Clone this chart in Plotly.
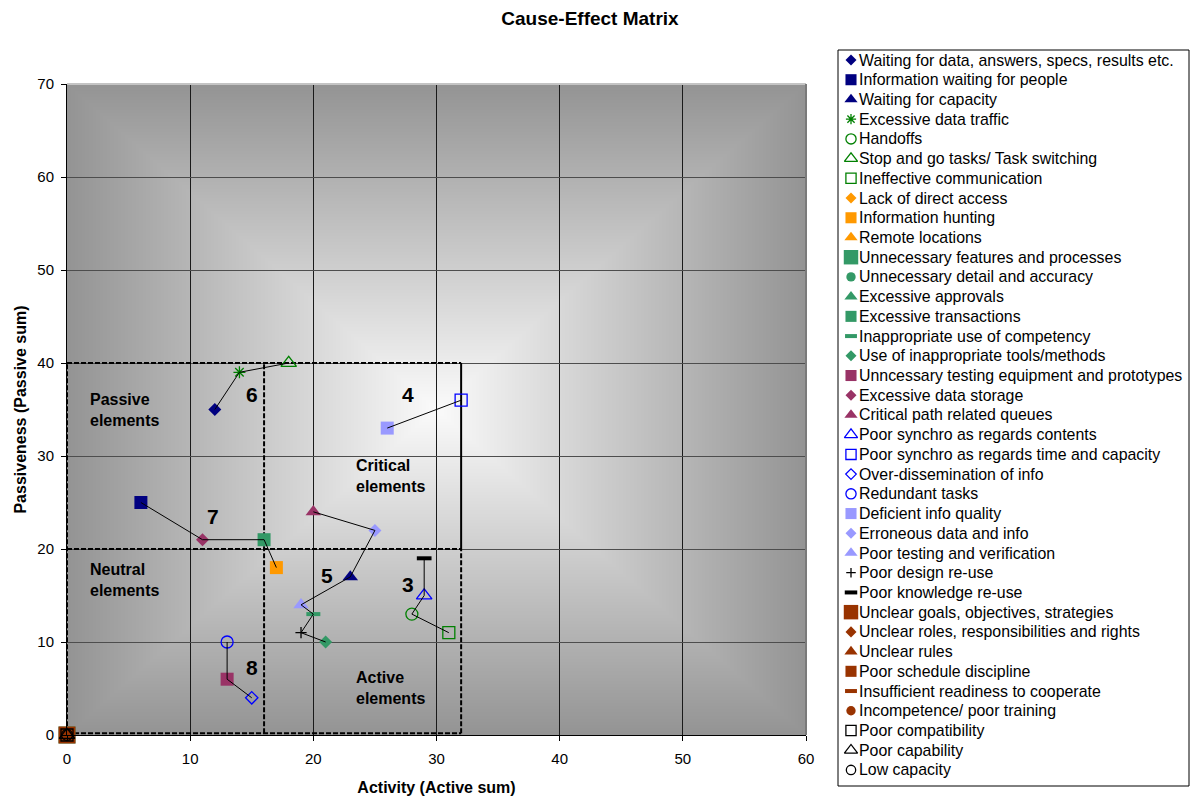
import base64
import struct
import zlib

import numpy as np
import plotly.graph_objects as go

# ---------------------------------------------------------------------------
# Data: each cause with its activity (active sum) and passiveness (passive sum)
# ---------------------------------------------------------------------------
causes = [
    "Waiting for data, answers, specs, results etc.",
    "Information waiting for people",
    "Waiting for capacity",
    "Excessive data traffic",
    "Handoffs",
    "Stop and go tasks/ Task switching",
    "Ineffective communication",
    "Lack of direct access",
    "Information hunting",
    "Remote locations",
    "Unnecessary features and processes",
    "Unnecessary detail and accuracy",
    "Excessive approvals",
    "Excessive transactions",
    "Inappropriate use of competency",
    "Use of inappropriate tools/methods",
    "Unncessary testing equipment and prototypes",
    "Excessive data storage",
    "Critical path related queues",
    "Poor synchro as regards contents",
    "Poor synchro as regards time and capacity",
    "Over-dissemination of info",
    "Redundant tasks",
    "Deficient info quality",
    "Erroneous data and info",
    "Poor testing and verification",
    "Poor design re-use",
    "Poor knowledge re-use",
    "Unclear goals, objectives, strategies",
    "Unclear roles, responsibilities and rights",
    "Unclear rules",
    "Poor schedule discipline",
    "Insufficient readiness to cooperate",
    "Incompetence/ poor training",
    "Poor compatibility",
    "Poor capability",
    "Low capacity",
]

activity = [12, 6, 23, 14, 28, 18, 31, 0, 17, 0,
            0, 0, 0, 16, 20, 21, 13, 11, 20, 29,
            32, 15, 13, 26, 25, 19, 19, 29, 0, 0,
            0, 0, 0, 0, 0, 0, 0]

passiveness = [35, 25, 17, 39, 13, 40, 11, 0, 18, 0,
               0, 0, 0, 21, 13, 10, 6, 21, 24, 15,
               36, 4, 10, 33, 22, 14, 11, 19, 0, 0,
               0, 0, 0, 0, 0, 0, 0]

# Causes chained together inside each numbered cluster
clusters = {
    "3": ["Poor knowledge re-use", "Poor synchro as regards contents",
          "Handoffs", "Ineffective communication"],
    "4": ["Deficient info quality", "Poor synchro as regards time and capacity"],
    "5": ["Critical path related queues", "Erroneous data and info",
          "Waiting for capacity", "Poor testing and verification",
          "Inappropriate use of competency", "Poor design re-use",
          "Use of inappropriate tools/methods"],
    "6": ["Waiting for data, answers, specs, results etc.",
          "Excessive data traffic", "Stop and go tasks/ Task switching"],
    "7": ["Information waiting for people", "Excessive data storage",
          "Excessive transactions", "Information hunting"],
    "8": ["Redundant tasks", "Unncessary testing equipment and prototypes",
          "Over-dissemination of info"],
}

# Quadrant thresholds of the matrix
ACTIVE_SPLIT, ACTIVE_MAX = 16, 32
PASSIVE_SPLIT, PASSIVE_MAX = 20, 40

# ---------------------------------------------------------------------------
# Styling
# ---------------------------------------------------------------------------
FONT = "Liberation Sans, Arial, sans-serif"
NAVY, GREEN, ORANGE, SEA = "#000080", "#008000", "#FF9900", "#339966"
PLUM, BLUE, PERI, BLACK, BROWN = "#993366", "#0000FF", "#9999FF", "#000000", "#993300"

# (symbol, colour, size, outline width)
styles = [
    ("diamond", NAVY, 10, 0),
    ("square", NAVY, 13, 0),
    ("triangle-up", NAVY, 13.5, 0),
    ("asterisk-open", GREEN, 10, 1.3),
    ("circle-open", GREEN, 12, 1.3),
    ("triangle-up-open", GREEN, 13.5, 1.3),
    ("square-open", GREEN, 12, 1.3),
    ("diamond", ORANGE, 10, 0),
    ("square", ORANGE, 13, 0),
    ("triangle-up", ORANGE, 13.5, 0),
    ("square", SEA, 17, 0),
    ("circle", SEA, 11, 0),
    ("triangle-up", SEA, 13.5, 0),
    ("square", SEA, 13, 0),
    ("line-ew-open", SEA, 10, 4),
    ("diamond", SEA, 10, 0),
    ("square", PLUM, 13, 0),
    ("diamond", PLUM, 10, 0),
    ("triangle-up", PLUM, 13.5, 0),
    ("triangle-up-open", BLUE, 13.5, 1.3),
    ("square-open", BLUE, 12, 1.3),
    ("diamond-open", BLUE, 9.5, 1.3),
    ("circle-open", BLUE, 12, 1.3),
    ("square", PERI, 13, 0),
    ("diamond", PERI, 10, 0),
    ("triangle-up", PERI, 13.5, 0),
    ("cross-thin-open", BLACK, 8, 1.3),
    ("line-ew-open", BLACK, 10.5, 4),
    ("square", BROWN, 17, 0),
    ("diamond", BROWN, 10, 0),
    ("triangle-up", BROWN, 13.5, 0),
    ("square", BROWN, 13, 0),
    ("line-ew-open", BROWN, 10, 4),
    ("circle", BROWN, 11, 0),
    ("square-open", BLACK, 12, 1.3),
    ("triangle-up-open", BLACK, 13.5, 1.3),
    ("circle-open", BLACK, 11, 1.3),
]

# ---------------------------------------------------------------------------
# Page geometry (pixels) -> plotly domains
# ---------------------------------------------------------------------------
W, H = 1196, 796
ML, MR, MT, MB = 67, 6, 40, 10
PW, PH = W - ML - MR, H - MT - MB


def xdom(px0, px1):
    return [(px0 - ML) / PW, (px1 - ML) / PW]


def ydom(py_top, py_bot):
    return [(H - MB - py_bot) / PH, (H - MB - py_top) / PH]


PLOT_L, PLOT_R, PLOT_T, PLOT_B = 67, 806, 84, 735
LEG_L, LEG_R, LEG_T, LEG_B = 838, 1189, 50, 786
ROW0, ROW_STEP = 60, 19.72


# ---------------------------------------------------------------------------
# Rectangular "from centre" gradient used as the plot-area fill
# ---------------------------------------------------------------------------
def gray_png(arr):
    h, w = arr.shape
    raw = b"".join(b"\x00" + arr[r].tobytes() for r in range(h))

    def chunk(tag, data):
        body = tag + data
        return struct.pack(">I", len(data)) + body + struct.pack(">I", zlib.crc32(body) & 0xFFFFFFFF)

    return (b"\x89PNG\r\n\x1a\n"
            + chunk(b"IHDR", struct.pack(">IIBBBBB", w, h, 8, 0, 0, 0, 0))
            + chunk(b"IDAT", zlib.compress(raw, 9))
            + chunk(b"IEND", b""))


gw, gh = PLOT_R - PLOT_L, PLOT_B - PLOT_T
u = np.abs(np.linspace(-1, 1, gw))[None, :]
v = np.abs(np.linspace(-1, 1, gh))[:, None]
t = np.maximum(u, v)
shade = np.clip(251 - 103 * t, 0, 255).astype(np.uint8)
bg_uri = "data:image/png;base64," + base64.b64encode(gray_png(shade)).decode()

# ---------------------------------------------------------------------------
# Figure
# ---------------------------------------------------------------------------
fig = go.Figure()

fig.add_layout_image(dict(source=bg_uri, xref="x", yref="y", x=0, y=70,
                          sizex=60, sizey=70, sizing="stretch",
                          xanchor="left", yanchor="top", layer="below"))


def marker_of(i, scale=1.0):
    sym, col, size, lw = styles[i]
    return dict(symbol=sym, color=col, size=size * scale,
                line=dict(color=col, width=lw))


# Cause markers in the matrix
for i, name in enumerate(causes):
    fig.add_trace(go.Scatter(
        x=[activity[i]], y=[passiveness[i]], mode="markers", name=name,
        marker=marker_of(i), cliponaxis=False, showlegend=False,
        hovertemplate=name + "<br>Activity %{x}<br>Passiveness %{y}<extra></extra>",
    ))

# Connecting lines through each cluster
index = {n: i for i, n in enumerate(causes)}
for key, members in clusters.items():
    fig.add_trace(go.Scatter(
        x=[activity[index[m]] for m in members],
        y=[passiveness[index[m]] for m in members],
        mode="lines", line=dict(color="black", width=1),
        showlegend=False, hoverinfo="skip", cliponaxis=False,
    ))

# Key: one symbol per cause on its own invisible axes
for i, name in enumerate(causes):
    fig.add_trace(go.Scatter(
        x=[13], y=[i], mode="markers", marker=marker_of(i, 0.85),
        xaxis="x2", yaxis="y2", showlegend=False, hoverinfo="skip",
        cliponaxis=False,
    ))

annotations = []
for i, name in enumerate(causes):
    annotations.append(dict(
        x=19, y=i, xref="x2", yref="y2", text=name, showarrow=False,
        xanchor="left", yanchor="middle",
        font=dict(family=FONT, size=15.9, color="black"),
    ))

# Cluster numbers
cluster_label_pos = {"6": (15.0, 36.6), "4": (27.7, 36.6), "7": (11.85, 23.45),
                     "5": (21.1, 17.1), "3": (27.7, 16.2), "8": (15.0, 7.3)}
for key, (lx, ly) in cluster_label_pos.items():
    annotations.append(dict(
        x=lx, y=ly, xref="x", yref="y", text=key, showarrow=False,
        font=dict(family=FONT, size=21, color="black", weight="bold"),
    ))

# Quadrant names
region_labels = [("Passive<br>elements", 1.7, 34.9),
                 ("Neutral<br>elements", 1.7, 16.7),
                 ("Critical<br>elements", 23.3, 27.85),
                 ("Active<br>elements", 23.3, 5.05)]
for text, lx, ly in region_labels:
    annotations.append(dict(
        x=lx, y=ly, xref="x", yref="y", text=text, showarrow=False,
        xanchor="left", yanchor="middle", align="left",
        font=dict(family=FONT, size=16, color="black", weight="bold"),
    ))

# Quadrant boundaries
dash = dict(color="black", width=2, dash="5px,2px")
base = 0.2
shapes = [
    dict(type="line", x0=0, x1=ACTIVE_MAX, y0=PASSIVE_MAX, y1=PASSIVE_MAX, line=dash),
    dict(type="line", x0=0, x1=ACTIVE_MAX, y0=PASSIVE_SPLIT, y1=PASSIVE_SPLIT, line=dash),
    dict(type="line", x0=0, x1=ACTIVE_MAX, y0=base, y1=base, line=dash),
    dict(type="line", x0=0, x1=0, y0=base, y1=PASSIVE_MAX, line=dash),
    dict(type="line", x0=ACTIVE_SPLIT, x1=ACTIVE_SPLIT, y0=base, y1=PASSIVE_MAX, line=dash),
    dict(type="line", x0=ACTIVE_MAX, x1=ACTIVE_MAX, y0=base, y1=PASSIVE_SPLIT, line=dash),
    dict(type="line", x0=ACTIVE_MAX, x1=ACTIVE_MAX, y0=PASSIVE_SPLIT, y1=PASSIVE_MAX,
         line=dict(color="black", width=2)),
]
for s in shapes:
    s.update(xref="x", yref="y", layer="between")

# Plot-area frame (top and right edges) and key box
shapes += [
    dict(type="line", xref="x domain", yref="y domain", x0=0, x1=1, y0=1, y1=1,
         line=dict(color="#c4c4c4", width=2), layer="above"),
    dict(type="line", xref="x domain", yref="y domain", x0=1, x1=1, y0=0, y1=1,
         line=dict(color="#7a7a7a", width=2), layer="above"),
    dict(type="rect", xref="x2 domain", yref="y2 domain", x0=0, x1=1, y0=0, y1=1,
         line=dict(color="black", width=1), fillcolor="rgba(0,0,0,0)", layer="below"),
]

axis_common = dict(
    dtick=10, showgrid=True, gridwidth=1, zeroline=False,
    showline=True, linecolor="black", linewidth=1,
    ticks="outside", ticklen=5, tickcolor="black",
    tickfont=dict(family=FONT, size=15, color="black"),
    automargin=False,
)

fig.update_layout(
    width=W, height=H,
    margin=dict(l=ML, r=MR, t=MT, b=MB, pad=0),
    paper_bgcolor="white", plot_bgcolor="white",
    font=dict(family=FONT, color="black"),
    title=dict(text="Cause-Effect Matrix", x=590 / W, xref="container", xanchor="center",
               y=1 - 18 / H, yref="container", yanchor="middle",
               font=dict(family=FONT, size=19, color="black", weight="bold")),
    xaxis=dict(domain=xdom(PLOT_L, PLOT_R), range=[0, 60], gridcolor="#1a1a1a",
               ticklabelstandoff=5,
               title=dict(text="Activity (Active sum)", standoff=15,
                          font=dict(family=FONT, size=16, weight="bold")),
               anchor="y", **axis_common),
    yaxis=dict(domain=ydom(PLOT_T, PLOT_B), range=[0, 70], gridcolor="#4d4d4d",
               ticklabelstandoff=4,
               title=dict(text="Passiveness (Passive sum)", standoff=6,
                          font=dict(family=FONT, size=16, weight="bold")),
               anchor="x", **axis_common),
    xaxis2=dict(domain=xdom(LEG_L, LEG_R), range=[0, LEG_R - LEG_L], visible=False,
                anchor="y2", fixedrange=True),
    yaxis2=dict(domain=ydom(LEG_T, LEG_B),
                range=[(LEG_B - ROW0) / ROW_STEP, -(ROW0 - LEG_T) / ROW_STEP],
                visible=False, anchor="x2", fixedrange=True),
    annotations=annotations,
    shapes=shapes,
    showlegend=False,
)

fig.write_html("out.html")
